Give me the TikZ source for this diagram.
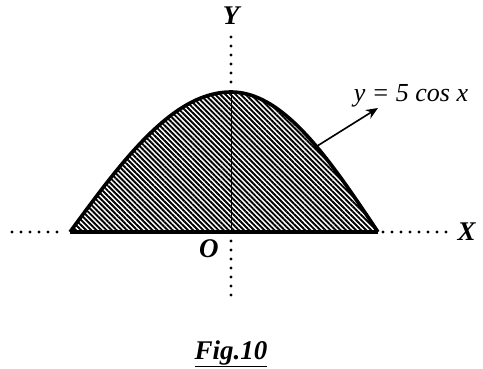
\documentclass[tikz,border=0pt]{standalone}
\usepackage{fontspec}
\setmainfont{Liberation Serif}
\usepackage{tikz}
\usetikzlibrary{arrows.meta,patterns.meta,positioning}
\tikzset{
  >=Stealth,
  every node/.style={font=\fontsize{26}{30}\selectfont},
  axislbl/.style={font=\fontsize{27}{30}\selectfont\bfseries\itshape},
  dotaxis/.style={line width=3.4pt,line cap=round,dash pattern=on 0pt off 9pt},
  curve/.style={line width=3.6pt},
  hatch/.style={pattern={Lines[angle=-45,distance=3.6pt,line width=1.9pt]}},
  pointer/.style={->,line width=1.6pt,>={Stealth[length=12pt,width=10pt]}}
}
\begin{document}
\begin{tikzpicture}[x=1pt,y=1pt]
  \useasboundingbox (-231,-136) rectangle (252,232);
  % shaded area under the curve
  \fill[hatch] plot[domain=-161:0,samples=50,smooth] (\x,{140*cos(90*\x/161)})
    -- plot[domain=0:147,samples=50,smooth] (\x,{140*cos(90*\x/147)}) -- cycle;
  \draw[line width=0.6pt] (0,0) -- (0,140);
  \draw[curve] plot[domain=-161:0,samples=50,smooth] (\x,{140*cos(90*\x/161)})
    -- plot[domain=0:147,samples=50,smooth] (\x,{140*cos(90*\x/147)});
  \draw[curve] (-161,0) -- (147,0);

  \coordinate (O) at (0,0);
  \coordinate (xl) at (-219,0);
  \coordinate (xr) at (221,0);
  \coordinate (ytop) at (0,195);
  \coordinate (ybot) at (0,-63);
  \coordinate (ypk) at (0,146);
  \draw[dotaxis] (xl) -- (-166,0);
  \draw[dotaxis] (152,0) -- (xr);
  \draw[dotaxis] (ytop) -- (ypk);
  \draw[dotaxis] (0,-9) -- (ybot);

  \node[axislbl] (ylbl) at (0,216) {Y};
  \node[axislbl,right=2pt of xr] (xlbl) {X};
  \node[axislbl] (olbl) at (-22,-17) {O};

  \node[font=\fontsize{26}{30}\selectfont\itshape] (eq) at (180,136) {y = 5 cos x};
  \coordinate (c1) at (83,84);
  \coordinate (c2) at (147,124);
  \draw[pointer] (c1) -- (c2);

  \node[axislbl] (fig) at (0,-122) {\underline{Fig.10}};
\end{tikzpicture}
\end{document}
